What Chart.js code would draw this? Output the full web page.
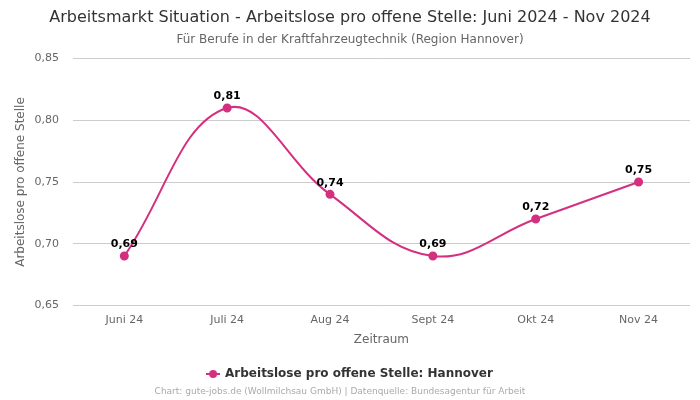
<!DOCTYPE html>
<html>
<head>
<meta charset="utf-8">
<script src="https://cdn.jsdelivr.net/npm/chart.js@4"></script>
<style>
  html, body { margin: 0; padding: 0; background: #fff; }
  #wrap { width: 700px; height: 400px; }
</style>
</head>
<body>
<div id="wrap"><canvas id="myChart"></canvas></div>
<script>
// data
const months = ["Juni 24", "Juli 24", "Aug 24", "Sept 24", "Okt 24", "Nov 24"];
const ratio = [0.69, 0.81, 0.74, 0.69, 0.72, 0.75];
const seriesName = "Arbeitslose pro offene Stelle: Hannover";
const lineColor = "#d4307f";

Chart.defaults.font.family = "'DejaVu Sans', sans-serif";

// legend marker: short line with a dot
const marker = document.createElement("canvas");
marker.width = 14;
marker.height = 10;
const mctx = marker.getContext("2d");
mctx.strokeStyle = lineColor;
mctx.lineWidth = 2;
mctx.beginPath();
mctx.moveTo(0, 5);
mctx.lineTo(14, 5);
mctx.stroke();
mctx.fillStyle = lineColor;
mctx.beginPath();
mctx.arc(7, 5, 4, 0, Math.PI * 2);
mctx.fill();

// value labels above points
const valueLabels = {
  id: "valueLabels",
  afterDatasetsDraw(chart) {
    const ctx = chart.ctx;
    const meta = chart.getDatasetMeta(0);
    ctx.save();
    ctx.font = "bold 11px 'DejaVu Sans', sans-serif";
    ctx.fillStyle = "#000";
    ctx.textAlign = "center";
    ctx.textBaseline = "bottom";
    meta.data.forEach((pt, i) => {
      const txt = ratio[i].toFixed(2).replace(".", ",");
      ctx.fillText(txt, pt.x, pt.y - 6);
    });
    ctx.restore();
  }
};

// credit line at the bottom
const credit = {
  id: "credit",
  afterDraw(chart) {
    const ctx = chart.ctx;
    ctx.save();
    ctx.font = "9px 'DejaVu Sans', sans-serif";
    ctx.fillStyle = "#aaa";
    ctx.textAlign = "center";
    ctx.textBaseline = "middle";
    ctx.fillText("Chart: gute-jobs.de (Wollmilchsau GmbH) | Datenquelle: Bundesagentur für Arbeit", 340, 392);
    ctx.restore();
  }
};

let chart = new Chart(document.getElementById("myChart").getContext("2d"), {
  type: "line",
  data: {
    labels: months,
    datasets: [{
      label: seriesName,
      data: ratio,
      borderColor: lineColor,
      backgroundColor: lineColor,
      borderWidth: 2,
      pointRadius: 3.5,
      pointHoverRadius: 3.5,
      tension: 0.4,
      fill: false
    }]
  },
  options: {
    responsive: true,
    maintainAspectRatio: false,
    animation: false,
    layout: { padding: { left: 10, right: 10, top: 0, bottom: 10 } },
    plugins: {
      title: {
        display: true,
        text: "Arbeitsmarkt Situation - Arbeitslose pro offene Stelle: Juni 2024 - Nov 2024",
        color: "#333",
        font: { size: 16, weight: "normal" },
        padding: { top: 8, bottom: 5 }
      },
      subtitle: {
        display: true,
        text: "Für Berufe in der Kraftfahrzeugtechnik (Region Hannover)",
        color: "#666",
        font: { size: 12 },
        padding: { bottom: 12 }
      },
      legend: {
        position: "bottom",
        labels: {
          color: "#333",
          font: { size: 12, weight: "bold" },
          usePointStyle: true,
          pointStyle: marker,
          boxWidth: 14,
          boxHeight: 10
        }
      },
      tooltip: { enabled: false }
    },
    scales: {
      x: {
        offset: true,
        grid: { display: false },
        border: { display: false },
        ticks: { color: "#666", font: { size: 11 }, padding: 0 },
        title: { display: true, text: "Zeitraum", color: "#666", font: { size: 12 }, padding: { top: 6, bottom: 11 } }
      },
      y: {
        min: 0.65,
        max: 0.85,
        border: { display: false },
        grid: { color: "#ccc", drawTicks: false },
        ticks: {
          stepSize: 0.05,
          color: "#666",
          font: { size: 11 },
          padding: 14,
          callback: v => v.toFixed(2).replace(".", ",")
        },
        title: {
          display: true,
          text: "Arbeitslose pro offene Stelle",
          color: "#666",
          font: { size: 12 },
          padding: { top: 4, bottom: -8 }
        }
      }
    }
  },
  plugins: [valueLabels, credit]
});
</script>
</body>
</html>
